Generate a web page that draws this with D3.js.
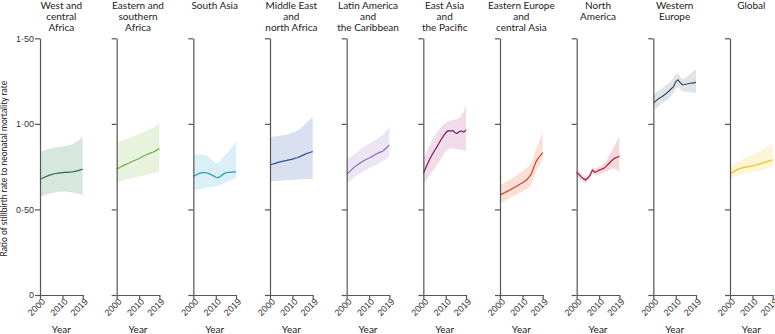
<!DOCTYPE html>
<html>
<head>
<meta charset="utf-8">
<script src="https://cdn.jsdelivr.net/npm/d3@7"></script>
<style>
  body { margin: 0; background: #fff; }
  svg { display: block; font-family: Lato, "Open Sans", sans-serif; }
  .axis path, .axis line { stroke: #555; stroke-width: 1.2; }
  .axis text { fill: #333; font-size: 9px; }
</style>
</head>
<body>
<svg id="chart"></svg>
<script>
const years = d3.range(2000, 2020);

const titles = [
  ["West and", "central", "Africa"],
  ["Eastern and", "southern", "Africa"],
  ["South Asia"],
  ["Middle East", "and", "north Africa"],
  ["Latin America", "and", "the Caribbean"],
  ["East Asia", "and", "the Pacific"],
  ["Eastern Europe", "and", "central Asia"],
  ["North", "America"],
  ["Western", "Europe"],
  ["Global"]
];

const lineColors = ["#2d6b48", "#6ab04c", "#1c9bc7", "#2a4f98", "#8c6bb5",
                    "#7a1d5c", "#d63d35", "#a51f3c", "#3f4b55", "#f0c419"];
const bandColors = ["#d6e7dd", "#e8f3dd", "#dbeff7", "#d9e1f1", "#ece5f4",
                    "#f0dcea", "#fbe0d5", "#f7d6dc", "#dee4e8", "#fdf6d6"];

const means = [
  [0.677,0.682,0.688,0.694,0.699,0.703,0.707,0.710,0.712,0.714,0.715,0.716,0.717,0.718,0.719,0.721,0.724,0.727,0.731,0.735],
  [0.735,0.742,0.749,0.756,0.762,0.768,0.774,0.780,0.786,0.792,0.798,0.805,0.812,0.818,0.824,0.829,0.834,0.840,0.848,0.858],
  [0.692,0.700,0.707,0.712,0.715,0.715,0.713,0.709,0.703,0.696,0.688,0.686,0.692,0.703,0.712,0.716,0.717,0.718,0.719,0.720],
  [0.760,0.764,0.768,0.772,0.776,0.779,0.782,0.785,0.788,0.791,0.794,0.798,0.802,0.807,0.813,0.819,0.825,0.830,0.834,0.838],
  [0.706,0.718,0.730,0.742,0.753,0.763,0.772,0.780,0.788,0.795,0.801,0.808,0.815,0.822,0.829,0.835,0.840,0.852,0.864,0.877],
  [0.710,0.740,0.770,0.798,0.822,0.843,0.865,0.888,0.910,0.930,0.948,0.960,0.958,0.962,0.950,0.944,0.955,0.958,0.952,0.965],
  [0.585,0.591,0.597,0.604,0.611,0.618,0.625,0.632,0.640,0.648,0.656,0.665,0.675,0.690,0.710,0.745,0.778,0.800,0.816,0.832],
  [0.717,0.705,0.690,0.680,0.672,0.685,0.700,0.730,0.717,0.722,0.730,0.735,0.740,0.750,0.764,0.777,0.790,0.800,0.805,0.810],
  [1.121,1.133,1.144,1.152,1.160,1.170,1.180,1.192,1.205,1.218,1.247,1.257,1.240,1.228,1.230,1.233,1.236,1.238,1.240,1.242],
  [0.708,0.716,0.724,0.731,0.737,0.741,0.744,0.747,0.750,0.752,0.754,0.757,0.761,0.765,0.769,0.774,0.778,0.782,0.786,0.790]
];

const uppers = [
  [0.838,0.842,0.846,0.850,0.853,0.856,0.859,0.862,0.864,0.866,0.868,0.870,0.872,0.875,0.879,0.885,0.893,0.903,0.915,0.928],
  [0.890,0.895,0.900,0.905,0.910,0.915,0.920,0.925,0.930,0.935,0.940,0.946,0.952,0.958,0.964,0.970,0.977,0.985,0.995,1.006],
  [0.819,0.821,0.822,0.822,0.821,0.818,0.812,0.803,0.792,0.780,0.772,0.774,0.785,0.800,0.815,0.830,0.845,0.862,0.880,0.897],
  [0.922,0.924,0.926,0.928,0.930,0.932,0.934,0.937,0.940,0.944,0.948,0.953,0.960,0.968,0.978,0.990,1.003,1.015,1.028,1.040],
  [0.790,0.800,0.810,0.820,0.830,0.840,0.850,0.860,0.868,0.876,0.884,0.892,0.900,0.908,0.917,0.927,0.937,0.949,0.965,0.984],
  [0.790,0.820,0.850,0.878,0.904,0.928,0.948,0.966,0.982,0.996,1.006,1.014,1.018,1.022,1.024,1.028,1.036,1.050,1.075,1.110],
  [0.643,0.650,0.657,0.664,0.672,0.680,0.688,0.696,0.705,0.714,0.723,0.733,0.744,0.757,0.775,0.810,0.850,0.885,0.920,0.955],
  [0.735,0.722,0.708,0.698,0.690,0.703,0.718,0.748,0.736,0.742,0.752,0.758,0.766,0.780,0.800,0.825,0.850,0.875,0.900,0.930],
  [1.170,1.180,1.190,1.200,1.210,1.220,1.230,1.240,1.255,1.270,1.290,1.296,1.275,1.260,1.268,1.278,1.288,1.298,1.307,1.316],
  [0.750,0.758,0.766,0.774,0.782,0.789,0.796,0.802,0.808,0.814,0.820,0.826,0.832,0.838,0.845,0.852,0.859,0.867,0.877,0.888]
];

const lowers = [
  [0.575,0.579,0.583,0.587,0.591,0.595,0.598,0.601,0.603,0.604,0.605,0.605,0.604,0.602,0.600,0.597,0.594,0.591,0.588,0.585],
  [0.657,0.661,0.665,0.669,0.673,0.677,0.680,0.683,0.686,0.689,0.692,0.695,0.698,0.701,0.704,0.707,0.710,0.713,0.716,0.720],
  [0.610,0.613,0.616,0.619,0.622,0.625,0.627,0.629,0.631,0.633,0.635,0.638,0.643,0.650,0.656,0.662,0.667,0.672,0.676,0.680],
  [0.663,0.664,0.665,0.666,0.667,0.668,0.669,0.670,0.671,0.672,0.673,0.674,0.675,0.676,0.677,0.678,0.678,0.678,0.677,0.677],
  [0.653,0.662,0.672,0.682,0.692,0.701,0.710,0.718,0.726,0.733,0.740,0.747,0.754,0.761,0.768,0.776,0.783,0.791,0.800,0.810],
  [0.653,0.668,0.685,0.703,0.722,0.740,0.760,0.780,0.800,0.820,0.838,0.850,0.856,0.858,0.856,0.852,0.850,0.848,0.845,0.840],
  [0.536,0.543,0.550,0.557,0.564,0.571,0.578,0.585,0.592,0.599,0.606,0.613,0.620,0.630,0.650,0.685,0.720,0.745,0.768,0.790],
  [0.697,0.686,0.672,0.662,0.654,0.667,0.682,0.712,0.698,0.702,0.708,0.712,0.715,0.720,0.728,0.735,0.740,0.738,0.730,0.720],
  [1.080,1.090,1.100,1.110,1.120,1.130,1.140,1.150,1.165,1.180,1.205,1.215,1.200,1.190,1.188,1.186,1.185,1.183,1.182,1.180],
  [0.680,0.686,0.692,0.697,0.702,0.706,0.709,0.712,0.715,0.717,0.719,0.721,0.723,0.726,0.729,0.732,0.736,0.740,0.745,0.750]
];

const yTicks = [0, 0.5, 1, 1.5];
const xTicks = [2000, 2010, 2019];

function makeChart() {
  let w = 775;
  let h = 334;

  let svg = d3.select("#chart")
    .attr("width", w)
    .attr("height", h);

  // panel positions (left axis of each small plot)
  let panelX = d3.scaleLinear().domain([0, titles.length - 1]).range([40, 730]);
  let x = d3.scaleLinear().domain([2000, 2019]).range([0, 42.7]);
  let y = d3.scaleLinear().domain([0, 1.5]).range([295, 38.3]);

  let fmt = v => v === 0 ? "0" : d3.format(".2f")(v).replace(".", "\u00b7");

  let area = d3.area()
    .x((d, i) => x(years[i]))
    .y0(d => y(d[0]))
    .y1(d => y(d[1]));

  let line = d3.line()
    .x((d, i) => x(years[i]))
    .y(d => y(d));

  titles.forEach((t, i) => {
    let g = svg.append("g").attr("transform", `translate(${panelX(i)},0)`);

    // uncertainty band
    let band = lowers[i].map((lo, j) => [lo, uppers[i][j]]);
    g.append("path")
      .attr("d", area(band))
      .attr("fill", bandColors[i]);

    g.append("path")
      .attr("d", line(means[i]))
      .attr("fill", "none")
      .attr("stroke", lineColors[i])
      .attr("stroke-width", 1.2);

    // y axis
    let yAxis = d3.axisLeft(y).tickValues(yTicks).tickSize(5).tickSizeOuter(0)
      .tickFormat(i === 0 ? fmt : "");
    g.append("g").attr("class", "axis").call(yAxis)
      .selectAll("text").attr("x", -6);

    // x axis
    let xAxis = d3.axisBottom(x).tickValues(xTicks).tickSize(4).tickSizeOuter(0)
      .tickFormat(d3.format("d"));
    let xg = g.append("g").attr("class", "axis")
      .attr("transform", `translate(0,${y(0)})`)
      .call(xAxis);
    xg.selectAll("text")
      .attr("x", 0).attr("y", 0).attr("dy", "0.35em")
      .attr("text-anchor", "end")
      .attr("transform", "translate(3,5) rotate(-45)");

    g.append("text")
      .attr("x", x(2009.5))
      .attr("y", 333)
      .attr("text-anchor", "middle")
      .attr("font-size", "10px")
      .attr("fill", "#222")
      .text("Year");

    g.selectAll(".title")
      .data(t)
      .enter()
      .append("text")
      .attr("class", "title")
      .attr("x", x(2009.5))
      .attr("y", (d, k) => 9 + k * 11)
      .attr("text-anchor", "middle")
      .attr("font-size", "10px")
      .attr("fill", "#222")
      .text(d => d);
  });

  svg.append("text")
    .attr("transform", `translate(7,${(y(0) + y(1.5)) / 2 + 2}) rotate(-90)`)
    .attr("text-anchor", "middle")
    .attr("font-size", "8.5px")
    .attr("fill", "#222")
    .text("Ratio of stillbirth rate to neonatal mortality rate");
}

window.onload = function() {
  makeChart();
}
</script>
</body>
</html>
